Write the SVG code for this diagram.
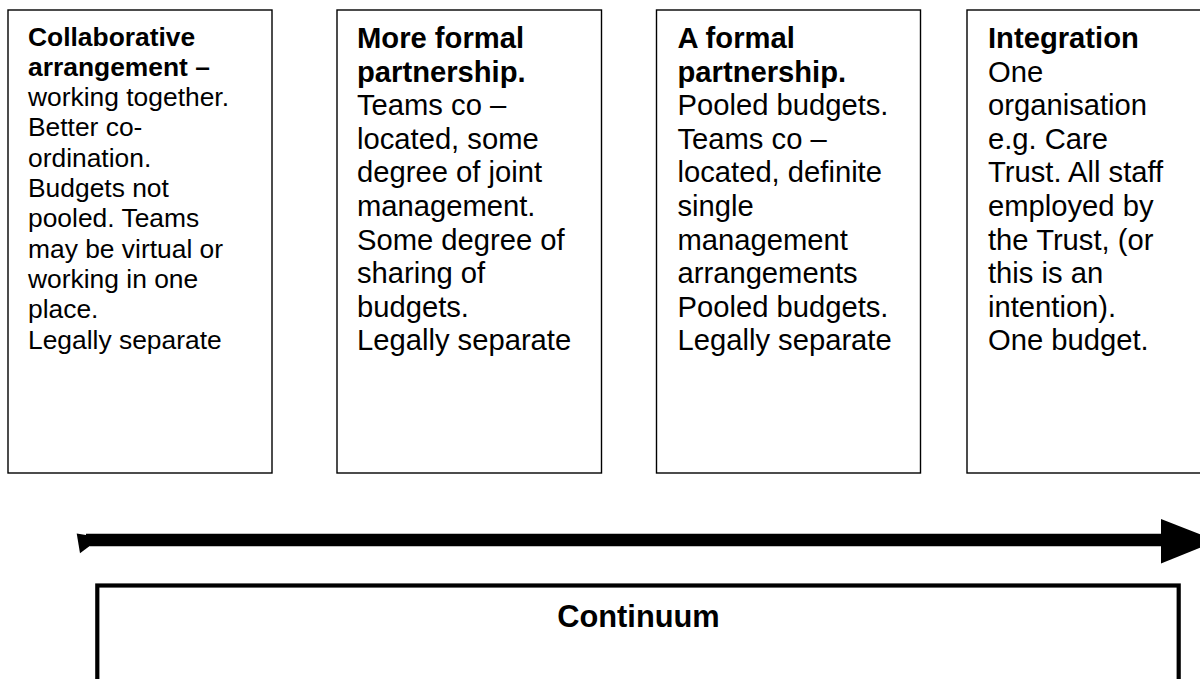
<svg xmlns="http://www.w3.org/2000/svg" width="1200" height="679" viewBox="0 0 1200 679">
<style>
.box{fill:#fff;stroke:#000;stroke-width:1.4}
.t1{font-family:"Liberation Sans",Arial,sans-serif;font-size:26.4px;fill:#000}
.t2{font-family:"Liberation Sans",Arial,sans-serif;font-size:29.2px;fill:#000}
.b{font-weight:bold}
.title{font-family:"Liberation Sans",Arial,sans-serif;font-size:30.8px;font-weight:bold;fill:#000}
</style>
<rect width="1200" height="679" fill="#fff"/>
<g id="node-collaborative">
<rect class="box" x="8" y="10" width="264" height="463"/>
<text class="t1" x="28" y="45.5">
<tspan class="b" x="28">Collaborative</tspan>
<tspan class="b" x="28" dy="30.3">arrangement –</tspan>
<tspan x="28" dy="30.3">working together.</tspan>
<tspan x="28" dy="30.3">Better co-</tspan>
<tspan x="28" dy="30.3">ordination.</tspan>
<tspan x="28" dy="30.3">Budgets not</tspan>
<tspan x="28" dy="30.3">pooled. Teams</tspan>
<tspan x="28" dy="30.3">may be virtual or</tspan>
<tspan x="28" dy="30.3">working in one</tspan>
<tspan x="28" dy="30.3">place.</tspan>
<tspan x="28" dy="30.3">Legally separate</tspan>
</text>
</g>
<g id="node-more-formal">
<rect class="box" x="337" y="10" width="264.5" height="463"/>
<text class="t2" x="357" y="48">
<tspan class="b" x="357">More formal</tspan>
<tspan class="b" x="357" dy="33.6">partnership.</tspan>
<tspan x="357" dy="33.6">Teams co –</tspan>
<tspan x="357" dy="33.6">located, some</tspan>
<tspan x="357" dy="33.6">degree of joint</tspan>
<tspan x="357" dy="33.6">management.</tspan>
<tspan x="357" dy="33.6">Some degree of</tspan>
<tspan x="357" dy="33.6">sharing of</tspan>
<tspan x="357" dy="33.6">budgets.</tspan>
<tspan x="357" dy="33.6">Legally separate</tspan>
</text>
</g>
<g id="node-formal">
<rect class="box" x="656.5" y="10" width="264" height="463"/>
<text class="t2" x="677.5" y="48">
<tspan class="b" x="677.5">A formal</tspan>
<tspan class="b" x="677.5" dy="33.6">partnership.</tspan>
<tspan x="677.5" dy="33.6">Pooled budgets.</tspan>
<tspan x="677.5" dy="33.6">Teams co –</tspan>
<tspan x="677.5" dy="33.6">located, definite</tspan>
<tspan x="677.5" dy="33.6">single</tspan>
<tspan x="677.5" dy="33.6">management</tspan>
<tspan x="677.5" dy="33.6">arrangements</tspan>
<tspan x="677.5" dy="33.6">Pooled budgets.</tspan>
<tspan x="677.5" dy="33.6">Legally separate</tspan>
</text>
</g>
<g id="node-integration">
<rect class="box" x="967" y="10" width="264" height="463"/>
<text class="t2" x="988" y="48">
<tspan class="b" x="988">Integration</tspan>
<tspan x="988" dy="33.6">One</tspan>
<tspan x="988" dy="33.6">organisation</tspan>
<tspan x="988" dy="33.6">e.g. Care</tspan>
<tspan x="988" dy="33.6">Trust. All staff</tspan>
<tspan x="988" dy="33.6">employed by</tspan>
<tspan x="988" dy="33.6">the Trust, (or</tspan>
<tspan x="988" dy="33.6">this is an</tspan>
<tspan x="988" dy="33.6">intention).</tspan>
<tspan x="988" dy="33.6">One budget.</tspan>
</text>
</g>
<g id="connectors">
<line x1="86" y1="540" x2="1163" y2="540" stroke="#000" stroke-width="12.5"/>
<polygon points="76.7,533.5 89,535.5 89,546.5 80,553.3" fill="#000"/>
<polygon points="1161,519 1161,563.5 1217,541" fill="#000"/>
</g>
<g id="node-continuum">
<rect x="97.3" y="585.5" width="1081.4" height="130" fill="none" stroke="#000" stroke-width="4.2"/>
<text class="title" x="638.5" y="627" text-anchor="middle">Continuum</text>
</g>
</svg>
